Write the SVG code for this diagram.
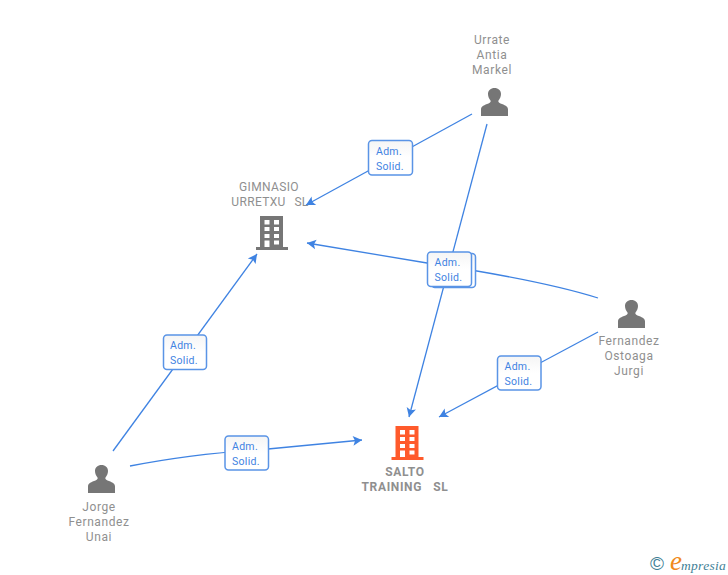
<svg xmlns="http://www.w3.org/2000/svg" width="728" height="575" viewBox="0 0 728 575">
<style>
.n{font-family:"Roboto","Liberation Sans",sans-serif;font-size:12px;fill:#8f8f8f;text-anchor:middle;letter-spacing:.6px}
.u{letter-spacing:.35px;word-spacing:1px}
.b{font-weight:bold;letter-spacing:.65px;word-spacing:2px}
.c{fill:none;stroke:#3f83e2;stroke-width:1.3;marker-end:url(#a)}
.l{fill:url(#g);stroke:#5a94e6;stroke-width:1.5}
.t{font-family:"Roboto","Liberation Sans",sans-serif;font-size:10.5px;fill:#3f83e2;letter-spacing:.3px}
</style>
<defs>
<marker id="a" markerUnits="userSpaceOnUse" markerWidth="12" markerHeight="12" refX="10" refY="6" orient="auto"><path d="M10 6 L1 1.2 L3 6 L1 10.8Z" fill="#3f83e2"/></marker>
<linearGradient id="g" x1="0" y1="0" x2="0" y2="1"><stop offset="0" stop-color="#f5f5f5"/><stop offset=".5" stop-color="#fff"/></linearGradient>
<g id="person"><path d="M0 28 V21.500 C0 18 3.500 17 7.500 15.500 C9.500 14.500 10 13.500 9.500 12.500 C8 10.500 7 8.500 7 6 C7 2.500 9.800 0 13.500 0 C17.200 0 20 2.500 20 6 C20 8.500 19 10.500 17.500 12.500 C17 13.500 17.500 14.500 19.500 15.500 C23.500 17 27 18 27 21.500 V28Z"/></g>
<path id="bld" fill-rule="evenodd" d="M4 0 H27 V31 H32 V34 H0 V31 H4Z M8.500 4 V8.500 H13.500 V4Z M18 4 V8.500 H23 V4Z M8.500 11 V15 H13.500 V11Z M18 11 V15 H23 V11Z M8.500 18 V22 H13.500 V18Z M18 18 V22 H23 V18Z M8.500 24.500 V31 H13.500 V24.500Z M18 24.500 V28.500 H23 V24.500Z"/>
</defs>
<rect width="728" height="575" fill="#fff"/>
<g id="connectors">
<path class="c" d="M472 114 L306 205"/>
<path class="c" d="M487 124 L409 417"/>
<path class="c" d="M598 298 C560 286 500 274 427 263 L307 243"/>
<path class="c" d="M598 332 L439 417"/>
<path class="c" d="M113 451 L257 254"/>
<path class="c" d="M130 466 C170 458 220 452 268 449 L362 440"/>
</g>
<g id="label-urrate-gimnasio"><rect class="l" x="368.500" y="140.500" width="44" height="34.500" rx="3.500"/><text class="t" x="376" y="154.500">Adm.</text><text class="t" x="376" y="169.500">Solid.</text></g>
<g id="label-center"><rect class="l" x="431.500" y="253.500" width="44" height="34" rx="3.500"/><rect class="l" x="427.500" y="252" width="44" height="34.500" rx="3.500"/><text class="t" x="434.500" y="265.500">Adm.</text><text class="t" x="434.500" y="280.500">Solid.</text></g>
<g id="label-fernandez-salto"><rect class="l" x="497.500" y="356" width="43.500" height="34" rx="3.500"/><text class="t" x="504.500" y="369.500">Adm.</text><text class="t" x="504.500" y="384.500">Solid.</text></g>
<g id="label-jorge-gimnasio"><rect class="l" x="163.500" y="335" width="43" height="34.500" rx="3.500"/><text class="t" x="170" y="348.500">Adm.</text><text class="t" x="170" y="363.500">Solid.</text></g>
<g id="label-jorge-salto"><rect class="l" x="225" y="436" width="43.500" height="34" rx="3.500"/><text class="t" x="232" y="449.500">Adm.</text><text class="t" x="232" y="464.500">Solid.</text></g>
<g id="node-urrate"><use href="#person" x="481" y="88" fill="#767676"/><text class="n" x="492" y="44">Urrate</text><text class="n" x="492" y="59">Antia</text><text class="n" x="492" y="74">Markel</text></g>
<g id="node-fernandez"><use href="#person" x="618" y="300" fill="#767676"/><text class="n" x="629" y="345">Fernandez</text><text class="n" x="629" y="360">Ostoaga</text><text class="n" x="629" y="375">Jurgi</text></g>
<g id="node-jorge"><use href="#person" x="88" y="465" fill="#767676"/><text class="n" x="99" y="511">Jorge</text><text class="n" x="99" y="526">Fernandez</text><text class="n" x="99" y="541">Unai</text></g>
<g id="node-gimnasio"><use href="#bld" x="256" y="216" fill="#767676"/><text class="n u" x="269" y="191">GIMNASIO</text><text class="n u" x="270" y="206" xml:space="preserve">URRETXU  SL</text></g>
<g id="node-salto"><use href="#bld" x="391.500" y="426" fill="#ff5a2b"/><text class="n b" x="405" y="476">SALTO</text><text class="n b" x="405" y="491" xml:space="preserve">TRAINING  SL</text></g>
<g id="logo"><text x="650" y="570" font-family="'Liberation Sans',sans-serif" font-size="19" fill="#3f7f96">©</text><text x="670" y="570" font-family="'Liberation Serif',serif" font-style="italic" font-size="27" fill="#f08a1d">e</text><text x="681" y="570" font-family="'Liberation Serif',serif" font-style="italic" font-size="13.500" fill="#3f7f96" letter-spacing=".3">mpresia</text></g>
</svg>
